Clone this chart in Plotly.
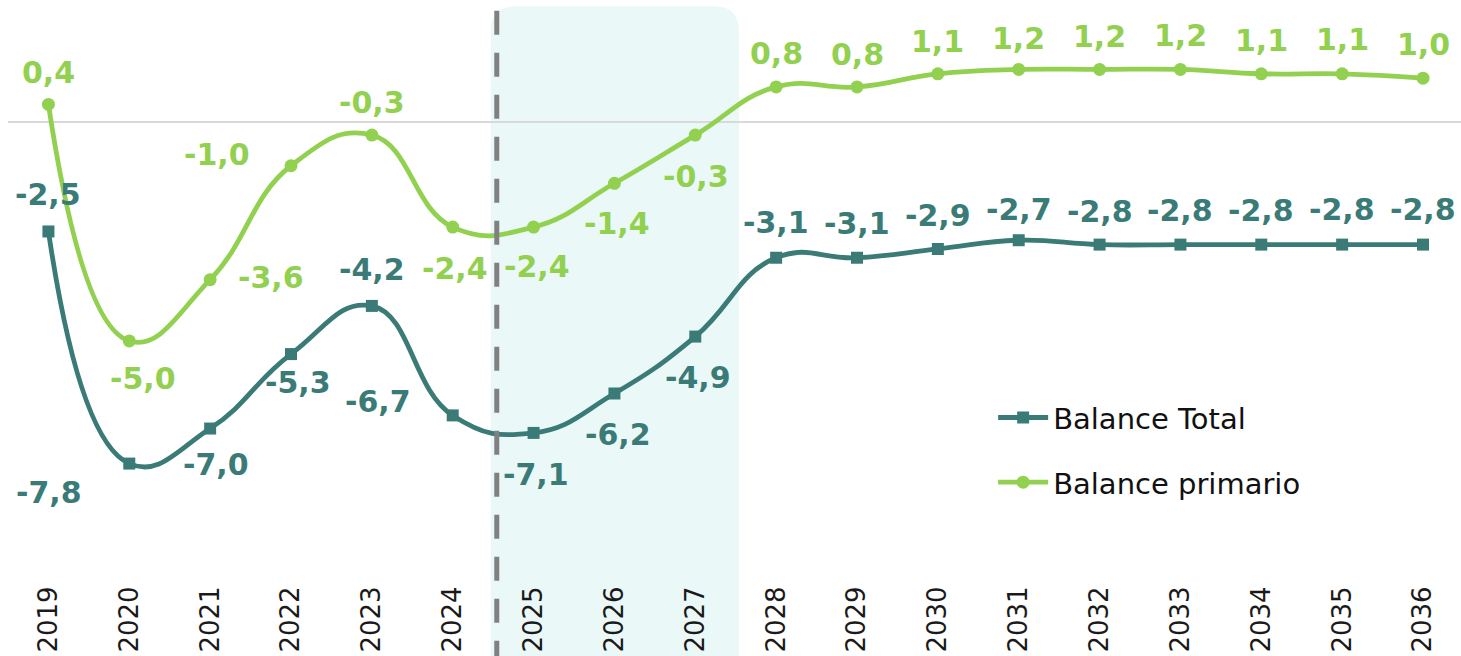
import plotly.graph_objects as go

years = list(range(2019, 2037))
balance_total = [-2.5, -7.8, -7.0, -5.3, -4.2, -6.7, -7.1, -6.2, -4.9,
                 -3.1, -3.1, -2.9, -2.7, -2.8, -2.8, -2.8, -2.8, -2.8]
balance_primario = [0.4, -5.0, -3.6, -1.0, -0.3, -2.4, -2.4, -1.4, -0.3,
                    0.8, 0.8, 1.1, 1.2, 1.2, 1.2, 1.1, 1.1, 1.0]
series_names = ["Balance Total", "Balance primario"]

# label pixel offsets (style only)
total_dx = [0, -80, 6, 7, 0, -75, 2, 4, 3, 0, 0, 0, 0, 0, 0, 0, 0, 0]
total_dy = [-37, 29, 36, 28, -36, -14, 42, 41, 41, -35, -34, -33, -31, -33, -34, -34, -35, -35]
prim_dx = [0, 14, 61, -74, 0, 2, 3, 3, 1, 0, 0, 0, 0, 0, 0, 0, 0, 0]
prim_dy = [-32, 38, -2, -11, -33, 41, 39, 40, 41, -33, -32, -32, -31, -33, -34, -33, -34, -34]

C_TOTAL = "#3A7B77"
C_PRIM = "#92D050"
FONT = "DejaVu Sans"

def fmt(v):
    return f"{v:.1f}".replace(".", ",")

fig = go.Figure()
fig.add_trace(go.Scatter(
    x=years, y=balance_total, name=series_names[0], mode="lines+markers",
    line=dict(color=C_TOTAL, width=4.8, shape="spline", smoothing=1.3),
    marker=dict(symbol="square", size=12, color=C_TOTAL),
    legendgroup="a"))
fig.add_trace(go.Scatter(
    x=years, y=balance_primario, name=series_names[1], mode="lines+markers",
    line=dict(color=C_PRIM, width=4.8, shape="spline", smoothing=1.3),
    marker=dict(symbol="circle", size=13, color=C_PRIM),
    legendgroup="b"))

ann = []
for x, v, dx, dy in zip(years, balance_total, total_dx, total_dy):
    ann.append(dict(x=x, y=v, xref="x", yref="y", text=fmt(v), showarrow=False,
                    xshift=dx, yshift=-dy,
                    font=dict(family=FONT, size=30, color=C_TOTAL, weight="bold")))
for x, v, dx, dy in zip(years, balance_primario, prim_dx, prim_dy):
    ann.append(dict(x=x, y=v, xref="x", yref="y", text=fmt(v), showarrow=False,
                    xshift=dx, yshift=-dy,
                    font=dict(family=FONT, size=30, color=C_PRIM, weight="bold")))

# shaded projection region with rounded top corners
x0, x1 = 2024.47, 2027.54
yb, yt = -0.16, 0.989
rx, ry = 0.31, 0.045
path = (f"M {x0},{yb} L {x0},{yt-ry} Q {x0},{yt} {x0+rx},{yt} "
        f"L {x1-rx},{yt} Q {x1},{yt} {x1},{yt-ry} L {x1},{yb} Z")

shapes = [
    dict(type="path", path=path, xref="x", yref="paper",
         fillcolor="#EBF8F8", line=dict(width=0), layer="below"),
    dict(type="line", xref="x", yref="paper", x0=2024.545, x1=2024.545,
         y0=0.981, y1=-0.16, line=dict(color="#808080", width=5, dash="24px,18px"),
         layer="above"),
]

fig.update_layout(
    width=1461, height=656,
    margin=dict(l=8, r=0, t=0, b=86),
    paper_bgcolor="white", plot_bgcolor="rgba(0,0,0,0)",
    annotations=ann, shapes=shapes,
    showlegend=True,
    legend=dict(x=0.678, y=0.312, xanchor="left", yanchor="top",
                bgcolor="rgba(0,0,0,0)", itemwidth=50, tracegroupgap=24,
                font=dict(family=FONT, size=29, color="#111111")),
    xaxis=dict(range=[2018.5, 2036.47], tickmode="array", tickvals=years,
               ticktext=[str(y) for y in years], tickangle=-90,
               showgrid=False, showline=False, zeroline=False,
               ticks="outside", ticklen=5, tickcolor="rgba(0,0,0,0)",
               tickfont=dict(family=FONT, size=26, color="#1a1a1a")),
    yaxis=dict(range=[-10.23, 2.785], showgrid=False, showticklabels=False,
               zeroline=True, zerolinecolor="#D9D9D9", zerolinewidth=1.5,
               showline=False),
)

fig.write_html("out.html", config={"displayModeBar": False},
               post_script="document.body.style.margin='0px';document.body.style.overflow='hidden';")
